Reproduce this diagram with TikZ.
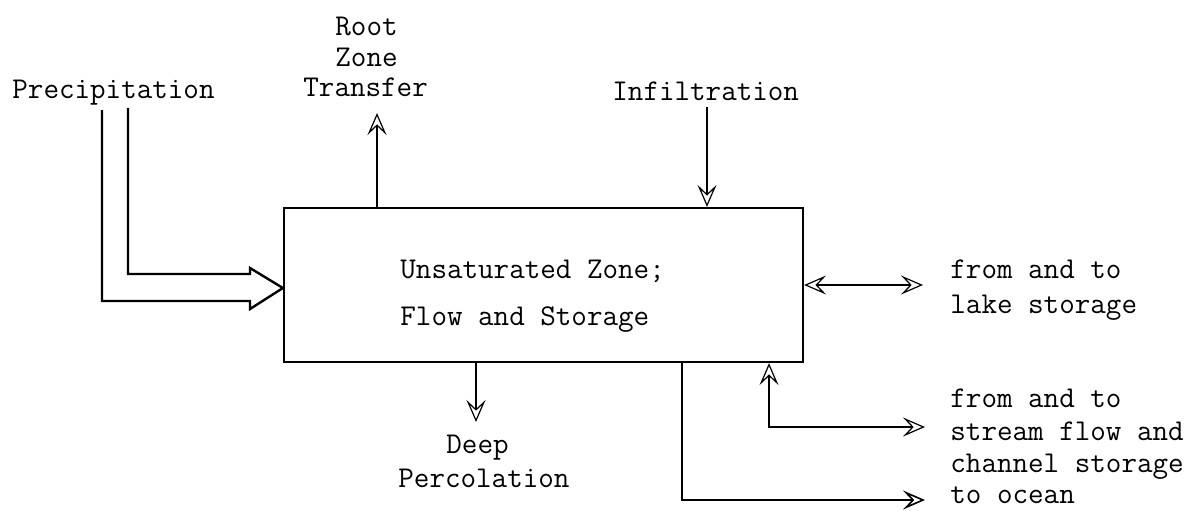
\documentclass[tikz,border=0pt]{standalone}
\usepackage{fontspec}
\usetikzlibrary{arrows.meta}
\begin{document}
\begin{tikzpicture}[x=0.5pt,y=-0.5pt,
  lbl/.style={anchor=base west, inner sep=0pt, font=\ttfamily\fontsize{15.1}{18}\selectfont},
  box/.style={draw, line width=1.1pt, minimum width=259.5pt, minimum height=77pt, inner sep=0pt},
  tip/.tip={Stealth[open,length=11pt,width=9.5pt,inset=4.5pt]},
  flow/.style={line width=0.6pt, -tip},
  flowboth/.style={line width=0.6pt, tip-tip},
  fat/.style={line width=1.2pt, line join=miter}]
\useasboundingbox (0,0) rectangle (1192,510);

% main box
\node[box] (box) at (543.5,285) {};
\node[lbl] (u1) at (400,278) {Unsaturated Zone;};
\node[lbl] (u2) at (400,325) {Flow and Storage};

% precipitation
\node[lbl] (prec) at (12,98) {Precipitation};
\draw[fat] (128,108) -- (128,274) -- (250,274) -- (250,268) -- (box.west |- 0,288)
  -- (250,309) -- (250,301) -- (102,301) -- (102,110);

% root zone transfer
\node[lbl] (r1) at (335,35) {Root};
\node[lbl] (r2) at (335,66) {Zone};
\node[lbl] (r3) at (303,96) {Transfer};
\coordinate (rt) at (377,113);
\draw[flow] (rt |- box.north) -- (rt);

% infiltration
\node[lbl] (inf) at (612,100) {Infiltration};
\coordinate (it) at (707,107);
\draw[flow] (it) -- (it |- box.north);

% deep percolation
\node[lbl] (d1) at (446,453) {Deep};
\node[lbl] (d2) at (398,487) {Percolation};
\coordinate (dt) at (476,422);
\draw[flow] (dt |- box.south) -- (dt);

% lake storage
\coordinate (lk) at (923,285);
\draw[flowboth] (box.east |- lk) -- (lk);
\node[lbl] (l1) at (950,278) {from and to};
\node[lbl] (l2) at (950,313) {lake storage};

% stream flow
\coordinate (s1) at (769,427);
\coordinate (s2) at (925,427);
\draw[flowboth] (s1 |- box.south) -- (s1) -- (s2);
\node[lbl] (f1) at (950,407) {from and to};
\node[lbl] (f2) at (950,440) {stream flow and};
\node[lbl] (f3) at (950,472) {channel storage};
\node[lbl] (f4) at (950,503) {to ocean};

% ocean
\coordinate (o1) at (682,500);
\coordinate (o2) at (925,500);
\draw[flow, line width=0.8pt] (o1 |- box.south) -- (o1) -- (o2);
\end{tikzpicture}
\end{document}
